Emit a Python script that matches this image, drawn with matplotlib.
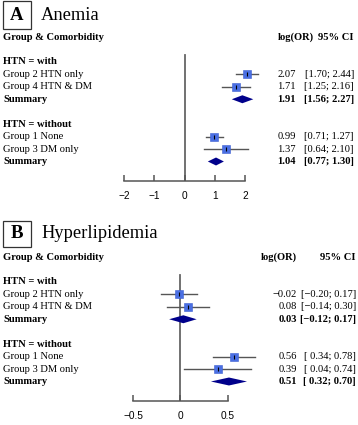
import matplotlib
matplotlib.use('Agg')
import matplotlib.pyplot as plt
from matplotlib.patches import Rectangle

W, H = 358, 425

# panel A: anemia
a_labels = ['Group 2 HTN only', 'Group 4 HTN & DM', 'Group 1 None', 'Group 3 DM only']
a_est = [2.07, 1.71, 0.99, 1.37]
a_lo = [1.70, 1.25, 0.71, 0.64]
a_hi = [2.44, 2.16, 1.27, 2.10]
a_sum_est = [1.91, 1.04]
a_sum_lo = [1.56, 0.77]
a_sum_hi = [2.27, 1.30]
a_ticks = [-2, -1, 0, 1, 2]
a_tick_labels = ['\u22122', '\u22121', '0', '1', '2']

# panel B: hyperlipidemia
b_labels = ['Group 2 HTN only', 'Group 4 HTN & DM', 'Group 1 None', 'Group 3 DM only']
b_est = [-0.02, 0.08, 0.56, 0.39]
b_lo = [-0.20, -0.14, 0.34, 0.04]
b_hi = [0.17, 0.30, 0.78, 0.74]
b_sum_est = [0.03, 0.51]
b_sum_lo = [-0.12, 0.32]
b_sum_hi = [0.17, 0.70]
b_ticks = [-0.5, 0, 0.5]
b_tick_labels = ['\u22120.5', '0', '0.5']

subgroups = ['HTN = with', 'HTN = without']

SERIF = 'Liberation Serif'
FS = 7.6
ROW = 12.45

fig = plt.figure(figsize=(W / 100, H / 100), dpi=100)


def fx(px):
    return px / W


def fy(py):
    return 1 - py / H


def fmt(v, pad=False):
    s = f'{abs(v):.2f}'
    if v < 0:
        return '\u2212' + s
    return (' ' + s) if pad else s


def ci_text(lo, hi, pad):
    return f'[{fmt(lo, pad)}; {fmt(hi)}]'


def panel(top, letter, title, box_h, x0, scale, labels, est, lo, hi,
          s_est, s_lo, s_hi, ticks, tick_labels, head_x, head_ha, val_x, ci_x):
    # top = pixel y of the "Group & Comorbidity" header row
    ry = lambda k: top + ROW * k
    axis_k = 11.6

    # title box and title
    box_top = top - 36
    fig.patches.append(Rectangle((fx(3), fy(box_top + box_h)), fx(28), box_h / H,
                                 transform=fig.transFigure, fill=False,
                                 edgecolor='#333333', lw=0.9))
    fig.text(fx(17), fy(box_top + box_h / 2), letter, family=SERIF, weight='bold',
             fontsize=13.5, ha='center', va='center')
    fig.text(fx(41), fy(box_top + box_h / 2), title, family=SERIF,
             fontsize=13.3, ha='left', va='center')

    # header row
    fig.text(fx(3), fy(ry(0)), 'Group & Comorbidity', family=SERIF, weight='bold',
             fontsize=FS, va='center')
    fig.text(fx(head_x), fy(ry(0)), 'log(OR)', family=SERIF, weight='bold',
             fontsize=FS, va='center', ha=head_ha)
    fig.text(fx(ci_x), fy(ry(0)), '95% CI', family=SERIF, weight='bold',
             fontsize=FS, va='center', ha='right')

    # forest axes over the full width
    ax_top, ax_bot = ry(0), ry(axis_k)
    ax = fig.add_axes([0, fy(ax_bot), 1, (ax_bot - ax_top) / H])
    ax.set_xlim(-x0 / scale, (W - x0) / scale)
    ax.set_ylim(axis_k, 0)
    ax.patch.set_alpha(0)
    for s in ['top', 'left', 'right']:
        ax.spines[s].set_visible(False)
    ax.spines['bottom'].set_bounds(ticks[0], ticks[-1])
    ax.spines['bottom'].set_color('#555555')
    ax.spines['bottom'].set_linewidth(1.1)
    ax.set_yticks([])
    ax.set_xticks(ticks)
    ax.set_xticklabels(tick_labels, family='Liberation Sans', fontsize=7.3)
    ax.tick_params(axis='x', direction='in', length=4, width=1.1,
                   color='#555555', pad=7)

    ax.plot([0, 0], [1.45, axis_k], color='#666666', lw=1.3, zorder=1)

    pad = any(v < 0 for v in lo + s_lo)
    rows = [3, 4, 8, 9]
    sum_rows = [5, 10]
    for g in range(2):
        fig.text(fx(3), fy(ry(2 + 5 * g)), subgroups[g], family=SERIF,
                 weight='bold', fontsize=FS, va='center')
    for i, k in enumerate(rows):
        ax.plot([lo[i], hi[i]], [k, k], color='#555555', lw=1.0, zorder=2)
        ax.plot(est[i], k, marker='s', ms=6.3, color='#4a6fe3',
                mec='#3c5fd0', mew=0.4, zorder=3)
        ax.plot(est[i], k, marker='|', ms=3, color='black', mew=0.8, zorder=4)
        fig.text(fx(3), fy(ry(k)), labels[i], family=SERIF, fontsize=FS, va='center')
        fig.text(fx(val_x), fy(ry(k)), fmt(est[i]), family=SERIF, fontsize=FS,
                 va='center', ha='right')
        fig.text(fx(ci_x), fy(ry(k)), ci_text(lo[i], hi[i], pad), family=SERIF,
                 fontsize=FS, va='center', ha='right')
    for j, k in enumerate(sum_rows):
        h = 0.32
        ax.fill([s_lo[j], s_est[j], s_hi[j], s_est[j]], [k, k - h, k, k + h],
                color='#00008b', lw=0, zorder=3)
        fig.text(fx(3), fy(ry(k)), 'Summary', family=SERIF, weight='bold',
                 fontsize=FS, va='center')
        fig.text(fx(val_x), fy(ry(k)), fmt(s_est[j]), family=SERIF, weight='bold',
                 fontsize=FS, va='center', ha='right')
        fig.text(fx(ci_x), fy(ry(k)), ci_text(s_lo[j], s_hi[j], pad), family=SERIF,
                 weight='bold', fontsize=FS, va='center', ha='right')
    return ax


panel(37, 'A', 'Anemia', 28, 184.5, 30.3, a_labels, a_est, a_lo, a_hi,
      a_sum_est, a_sum_lo, a_sum_hi, a_ticks, a_tick_labels,
      296, 'center', 296, 354)
panel(257, 'B', 'Hyperlipidemia', 26, 180.5, 95.0, b_labels, b_est, b_lo, b_hi,
      b_sum_est, b_sum_lo, b_sum_hi, b_ticks, b_tick_labels,
      297, 'right', 297, 356)

fig.savefig('out.png', dpi=100)
